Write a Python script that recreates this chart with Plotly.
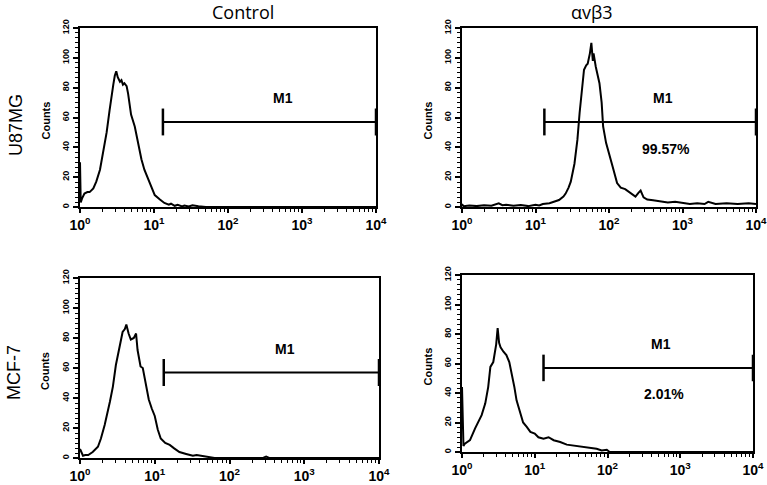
import math
import plotly.graph_objects as go

# ---------------- data (log10 fluorescence positions, counts) ----------------
panel_titles = ["Control", "αvβ3"]
row_labels = ["U87MG", "MCF-7"]

tl_log = [0.0, 0.01, 0.03, 0.06, 0.10, 0.13, 0.18, 0.22, 0.27, 0.31,
          0.36, 0.40, 0.42, 0.45, 0.47, 0.49, 0.51, 0.54, 0.56, 0.58,
          0.60, 0.63, 0.65, 0.67, 0.69, 0.74, 0.78, 0.83, 0.87, 0.92,
          0.96, 1.01, 1.08, 1.14, 1.20, 1.23, 1.28, 1.32, 1.38, 1.41,
          1.47, 1.52, 1.60, 1.65, 1.70, 4.0]
tl_counts = [30, 3, 6, 9, 10, 10, 12.5, 17, 25, 36,
             50, 65, 73, 82, 88, 91, 87, 84, 85, 82,
             83, 81, 76, 67, 62, 54, 43, 32, 25, 19,
             14, 8, 5, 2.7, 1.5, 2.2, 0.8, 1.5, 0.4, 1.0,
             0.3, 1.2, 0.5, 0, 0, 0]

tr_log = [0.0, 0.02, 0.1, 0.2, 0.3, 0.4, 0.5, 0.55, 0.6, 0.7,
          0.8, 0.9, 1.0, 1.05, 1.1, 1.19, 1.25, 1.32, 1.38, 1.41,
          1.45, 1.48, 1.53, 1.57, 1.60, 1.63, 1.66, 1.69, 1.71, 1.74,
          1.76, 1.78, 1.79, 1.82, 1.87, 1.90, 1.92, 1.96, 2.00, 2.05,
          2.11, 2.16, 2.22, 2.27, 2.32, 2.36, 2.40, 2.43, 2.47, 2.52,
          2.6, 2.7, 2.8, 2.9, 3.0, 3.1, 3.2, 3.3, 3.35, 3.45,
          3.6, 3.75, 3.9, 4.0]
tr_counts = [2, 0.5, 1, 0.6, 1.2, 0.8, 2.5, 1.2, 1.5, 0.8,
             1.3, 0.6, 1.5, 1, 2, 2.5, 3.5, 4.7, 7, 9,
             13, 17, 29, 45, 63, 80, 92, 95, 96, 103,
             110, 98, 103, 94, 83, 70, 54, 43, 35, 27,
             16, 13, 12, 10, 8, 7, 9.5, 11, 6.5, 5,
             4.5, 3.5, 3, 3.5, 2.5, 2, 2.5, 2, 3.5, 2,
             2.5, 2, 2.5, 2]

bl_log = [0.0, 0.02, 0.04, 0.07, 0.11, 0.17, 0.24, 0.28, 0.33, 0.40,
          0.44, 0.48, 0.53, 0.57, 0.60, 0.62, 0.65, 0.68, 0.72, 0.75,
          0.77, 0.81, 0.84, 0.88, 0.92, 0.96, 1.00, 1.04, 1.08, 1.14,
          1.20, 1.26, 1.33, 1.42, 1.51, 1.56, 1.62, 1.68, 1.73, 1.80,
          2.45, 2.49, 2.53, 4.0]
bl_counts = [6, 3, 1.5, 2, 2, 4, 7.5, 13, 22, 37.5,
             47.6, 62, 74, 84, 86, 89, 83, 79, 80, 83,
             72, 61, 60, 50, 39, 33, 28, 19, 13, 10,
             8.7, 6.4, 4, 2.7, 1.5, 2, 1.5, 0.9, 0.6, 0,
             0, 1, 0, 0]

br_log = [0.0, 0.02, 0.04, 0.11, 0.18, 0.23, 0.27, 0.32, 0.36, 0.39,
          0.43, 0.47, 0.49, 0.51, 0.53, 0.57, 0.61, 0.65, 0.68, 0.72,
          0.75, 0.80, 0.84, 0.89, 0.94, 1.00, 1.05, 1.12, 1.19, 1.26,
          1.35, 1.44, 1.51, 1.58, 1.67, 1.76, 1.85, 1.92, 1.99, 2.03,
          4.0]
br_counts = [44, 4, 5.7, 8, 16, 20.5, 25, 33, 44, 57.7,
             61, 73, 84, 74, 71, 68, 65.7, 61, 54, 44,
             35, 27, 20, 17, 13.6, 12.5, 10, 9, 10, 8,
             6.8, 5, 4.5, 3.8, 3.4, 2.7, 2.2, 1.1, 1.5, 0,
             0]

# M1 gate
gate_start = 13.2
gate_end = 10000
gate_level = 57
gate_cap = [48, 66]
gate_label = "M1"
gate_label_pos = [550, 73]
percent_labels = [None, "99.57%", None, "2.01%"]
percent_pos = [590, 39]

x_tickvals = [1, 10, 100, 1000, 10000]
x_ticktext = ["10<sup>0</sup>", "10<sup>1</sup>", "10<sup>2</sup>", "10<sup>3</sup>", "10<sup>4</sup>"]
x_minorvals = [m * 10 ** d for d in range(4) for m in range(2, 10)]
y_tickvals = [0, 20, 40, 60, 80, 100, 120]
y_minorvals = [k * 10 / 3 for k in range(37)]

# ---------------- layout geometry (pixels) ----------------
W, H = 767, 485
boxes = [  # left, right, top, bottom in pixels
    (80, 376, 28, 207),
    (462, 756, 28, 207),
    (80, 379, 278, 458),
    (462, 753, 275, 452),
]

series = [(tl_log, tl_counts), (tr_log, tr_counts), (bl_log, bl_counts), (br_log, br_counts)]

fig = go.Figure()
layout = dict(
    template="none",
    width=W, height=H,
    margin=dict(l=0, r=0, t=0, b=0, pad=0, autoexpand=False),
    paper_bgcolor="white", plot_bgcolor="white",
    showlegend=False,
    font=dict(family="Liberation Sans, Arial, sans-serif", color="black"),
)

annotations = []
for i, ((lg, cnt), (l, r, t, b)) in enumerate(zip(series, boxes)):
    n = i + 1
    xa = "x" if n == 1 else f"x{n}"
    ya = "y" if n == 1 else f"y{n}"
    xs = [10 ** v for v in lg]
    fig.add_trace(go.Scatter(x=xs, y=cnt, mode="lines", xaxis=xa, yaxis=ya,
                             line=dict(color="black", width=2), hoverinfo="skip"))
    # gate bar
    fig.add_trace(go.Scatter(x=[gate_start, gate_end], y=[gate_level, gate_level],
                             mode="lines", xaxis=xa, yaxis=ya,
                             line=dict(color="black", width=2), hoverinfo="skip"))
    fig.add_trace(go.Scatter(x=[gate_start, gate_start, None, gate_end, gate_end],
                             y=[gate_cap[0], gate_cap[1], None, gate_cap[0], gate_cap[1]],
                             mode="lines", xaxis=xa, yaxis=ya,
                             line=dict(color="black", width=2.5), hoverinfo="skip"))
    xkey = "xaxis" if n == 1 else f"xaxis{n}"
    ykey = "yaxis" if n == 1 else f"yaxis{n}"
    layout[xkey] = dict(
        type="log", range=[0, 4], domain=[l / W, r / W], anchor=ya,
        tickmode="array", tickvals=x_tickvals, ticktext=x_ticktext,
        ticks="outside", ticklen=4, tickwidth=1.5, tickcolor="black",
        minor=dict(ticks="outside", ticklen=3, tickwidth=1, tickcolor="black",
                   tickmode="array", tickvals=x_minorvals, showgrid=False),
        showline=True, linecolor="black", linewidth=2, mirror=True,
        showgrid=False, zeroline=False, automargin=False,
        ticklabeloverflow="allow",
        tickfont=dict(family="Liberation Sans, Arial", size=14, weight="bold", color="black"),
    )
    layout[ykey] = dict(
        range=[0, 120], domain=[1 - b / H, 1 - t / H], anchor=xa,
        tickmode="array", tickvals=y_tickvals, tickangle=-90,
        ticks="outside", ticklen=5, tickwidth=1.5, tickcolor="black",
        minor=dict(ticks="outside", ticklen=3, tickwidth=1, tickcolor="black",
                   tickmode="array", tickvals=y_minorvals, showgrid=False),
        showline=True, linecolor="black", linewidth=2, mirror=True,
        showgrid=False, zeroline=False, automargin=False,
        tickfont=dict(family="Liberation Sans, Arial", size=9, weight="bold", color="black"),
    )
    # Counts label
    annotations.append(dict(text="Counts", xref="paper", yref="paper",
                            x=(l - 35) / W, y=1 - ((t + b) / 2 + 3) / H,
                            xanchor="center", yanchor="middle",
                            textangle=-90, showarrow=False,
                            font=dict(size=11, weight="bold", color="black")))
    # M1 label
    annotations.append(dict(text=gate_label, xref=xa, yref=ya,
                            x=math.log10(gate_label_pos[0]), y=gate_label_pos[1],
                            xanchor="center", yanchor="middle", showarrow=False,
                            font=dict(size=14, weight="bold", color="black")))
    if percent_labels[i]:
        annotations.append(dict(text=percent_labels[i], xref=xa, yref=ya,
                                x=math.log10(percent_pos[0]), y=percent_pos[1],
                                xanchor="center", yanchor="middle", showarrow=False,
                                font=dict(size=14, weight="bold", color="black")))

# column titles
for txt, xp in zip(panel_titles, [243, 592]):
    annotations.append(dict(text=txt, xref="paper", yref="paper",
                            x=xp / W, y=1 - 12 / H, xanchor="center", yanchor="middle",
                            showarrow=False,
                            font=dict(family="Open Sans, sans-serif", size=18, color="black")))
# row labels
for txt, xp, yp in zip(row_labels, [16, 14], [125, 372]):
    annotations.append(dict(text=txt, xref="paper", yref="paper",
                            x=xp / W, y=1 - yp / H, xanchor="center", yanchor="middle",
                            textangle=-90, showarrow=False,
                            font=dict(family="Liberation Sans, Arial", size=18, color="black")))

layout["annotations"] = annotations
fig.update_layout(**layout)
fig.write_html(
    "out.html",
    config={"displayModeBar": False},
    post_script="document.body.style.margin='0px';document.body.style.overflow='hidden';",
)
